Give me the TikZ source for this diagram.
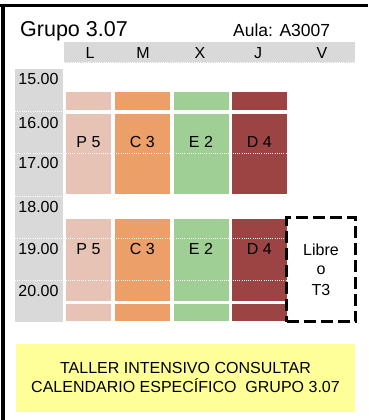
\documentclass[tikz,border=0pt]{standalone}
\usepackage{fontspec}
\usetikzlibrary{calc}
\setmainfont{Liberation Sans}
\definecolor{gris}{HTML}{D9D9D9}
\definecolor{cL}{HTML}{E6C3B4}
\definecolor{cM}{HTML}{ED9F6A}
\definecolor{cX}{HTML}{A0CF95}
\definecolor{cJ}{HTML}{9C4344}
\definecolor{amarillo}{HTML}{FFFF99}
\begin{document}
\begin{tikzpicture}[x=1pt,y=-1pt,
  cell/.style={rectangle,inner sep=0pt,outer sep=0pt,anchor=north west},
  txt/.style={inner sep=0pt,font=\fontsize{16}{19}\selectfont},
  dotline/.style={white,line width=1pt,dash pattern=on 1pt off 1.2pt},
  frameline/.style={black,line width=3.5pt}]
\useasboundingbox (0,0) rectangle (368,420);
% frame
\coordinate (ftl) at (0,5.5);
\coordinate (ftr) at (368,5.5);
\coordinate (fl1) at (3,3.75);
\coordinate (fl2) at (3,420);
\draw[frameline] (ftl) -- (ftr);
\draw[frameline] (fl1) -- (fl2);
% titles
\node[txt,anchor=base west,font=\fontsize{21.5}{24}\selectfont] (titulo) at (20,36.7) {Grupo 3.07};
\node[txt,anchor=base west,font=\fontsize{17.5}{20}\selectfont] (aula) at (233,37) {Aula: A3007};
% header band
\node[cell,fill=gris,minimum width=291pt,minimum height=21pt] (hdr) at (64,42) {};
\coordinate (hdrl) at (64,62.5);
\coordinate (hdrr) at (355,62.5);
\draw[dotline] (hdrl) -- (hdrr);
\foreach \d/\x in {L/90,M/143,X/200,J/258,V/322}{
  \node[txt] (day\d) at (\x,53) {\d};
}
% time column
\node[cell,fill=gris,minimum width=48pt,minimum height=253pt] (tcol) at (15,69) {};
\foreach \t/\y in {15/79,16/123,17/163,18/207,19/249,20/291}{
  \node[txt] (h\t) at (38.5,\y) {\t.00};
}
% cells
\foreach \n/\xa/\w/\c/\lab in {L/66/45/cL/P 5,M/114.5/55.5/cM/C 3,X/173.5/55/cX/E 2,J/231.5/55.5/cJ/D 4}{
  \node[cell,fill=\c,minimum width=\w pt,minimum height=18.5pt] (\n1a) at (\xa,91.5) {};
  \node[cell,fill=\c,minimum width=\w pt,minimum height=80pt] (\n1b) at (\xa,113.5) {};
  \node[cell,fill=\c,minimum width=\w pt,minimum height=81.5pt] (\n2a) at (\xa,219) {};
  \node[cell,fill=\c,minimum width=\w pt,minimum height=17.5pt] (\n2b) at (\xa,303.5) {};
  \node[txt] (\n1t) at ($(\n1b.north)+(0,28.5)$) {\lab};
  \node[txt] (\n2t) at ($(\n2a.north)+(0,30.3)$) {\lab};
}
% dotted hour lines
\foreach \y in {111,153,196,238,280}{
  \coordinate (dl\y) at (15,\y);
  \coordinate (dr\y) at (287,\y);
  \draw[dotline] (dl\y) -- (dr\y);
}
% Libre box
\node[cell,draw=black,line width=3pt,dash pattern=on 12pt off 5pt,minimum width=69pt,minimum height=104pt] (libre) at (286.5,217.5) {};
\node[txt] (libre1) at (321,249.3) {Libre};
\node[txt] (libre2) at (321,270) {o};
\node[txt] (libre3) at (321,290) {T3};
% yellow note
\node[cell,fill=amarillo,minimum width=339pt,minimum height=68pt] (nota) at (16,344) {};
\node[txt,anchor=base] (nota1) at (185.5,373.3) {TALLER INTENSIVO CONSULTAR};
\node[txt,anchor=base] (nota2) at (185.5,392.3) {CALENDARIO ESPECÍFICO\ \ GRUPO 3.07};
\end{tikzpicture}
\end{document}
